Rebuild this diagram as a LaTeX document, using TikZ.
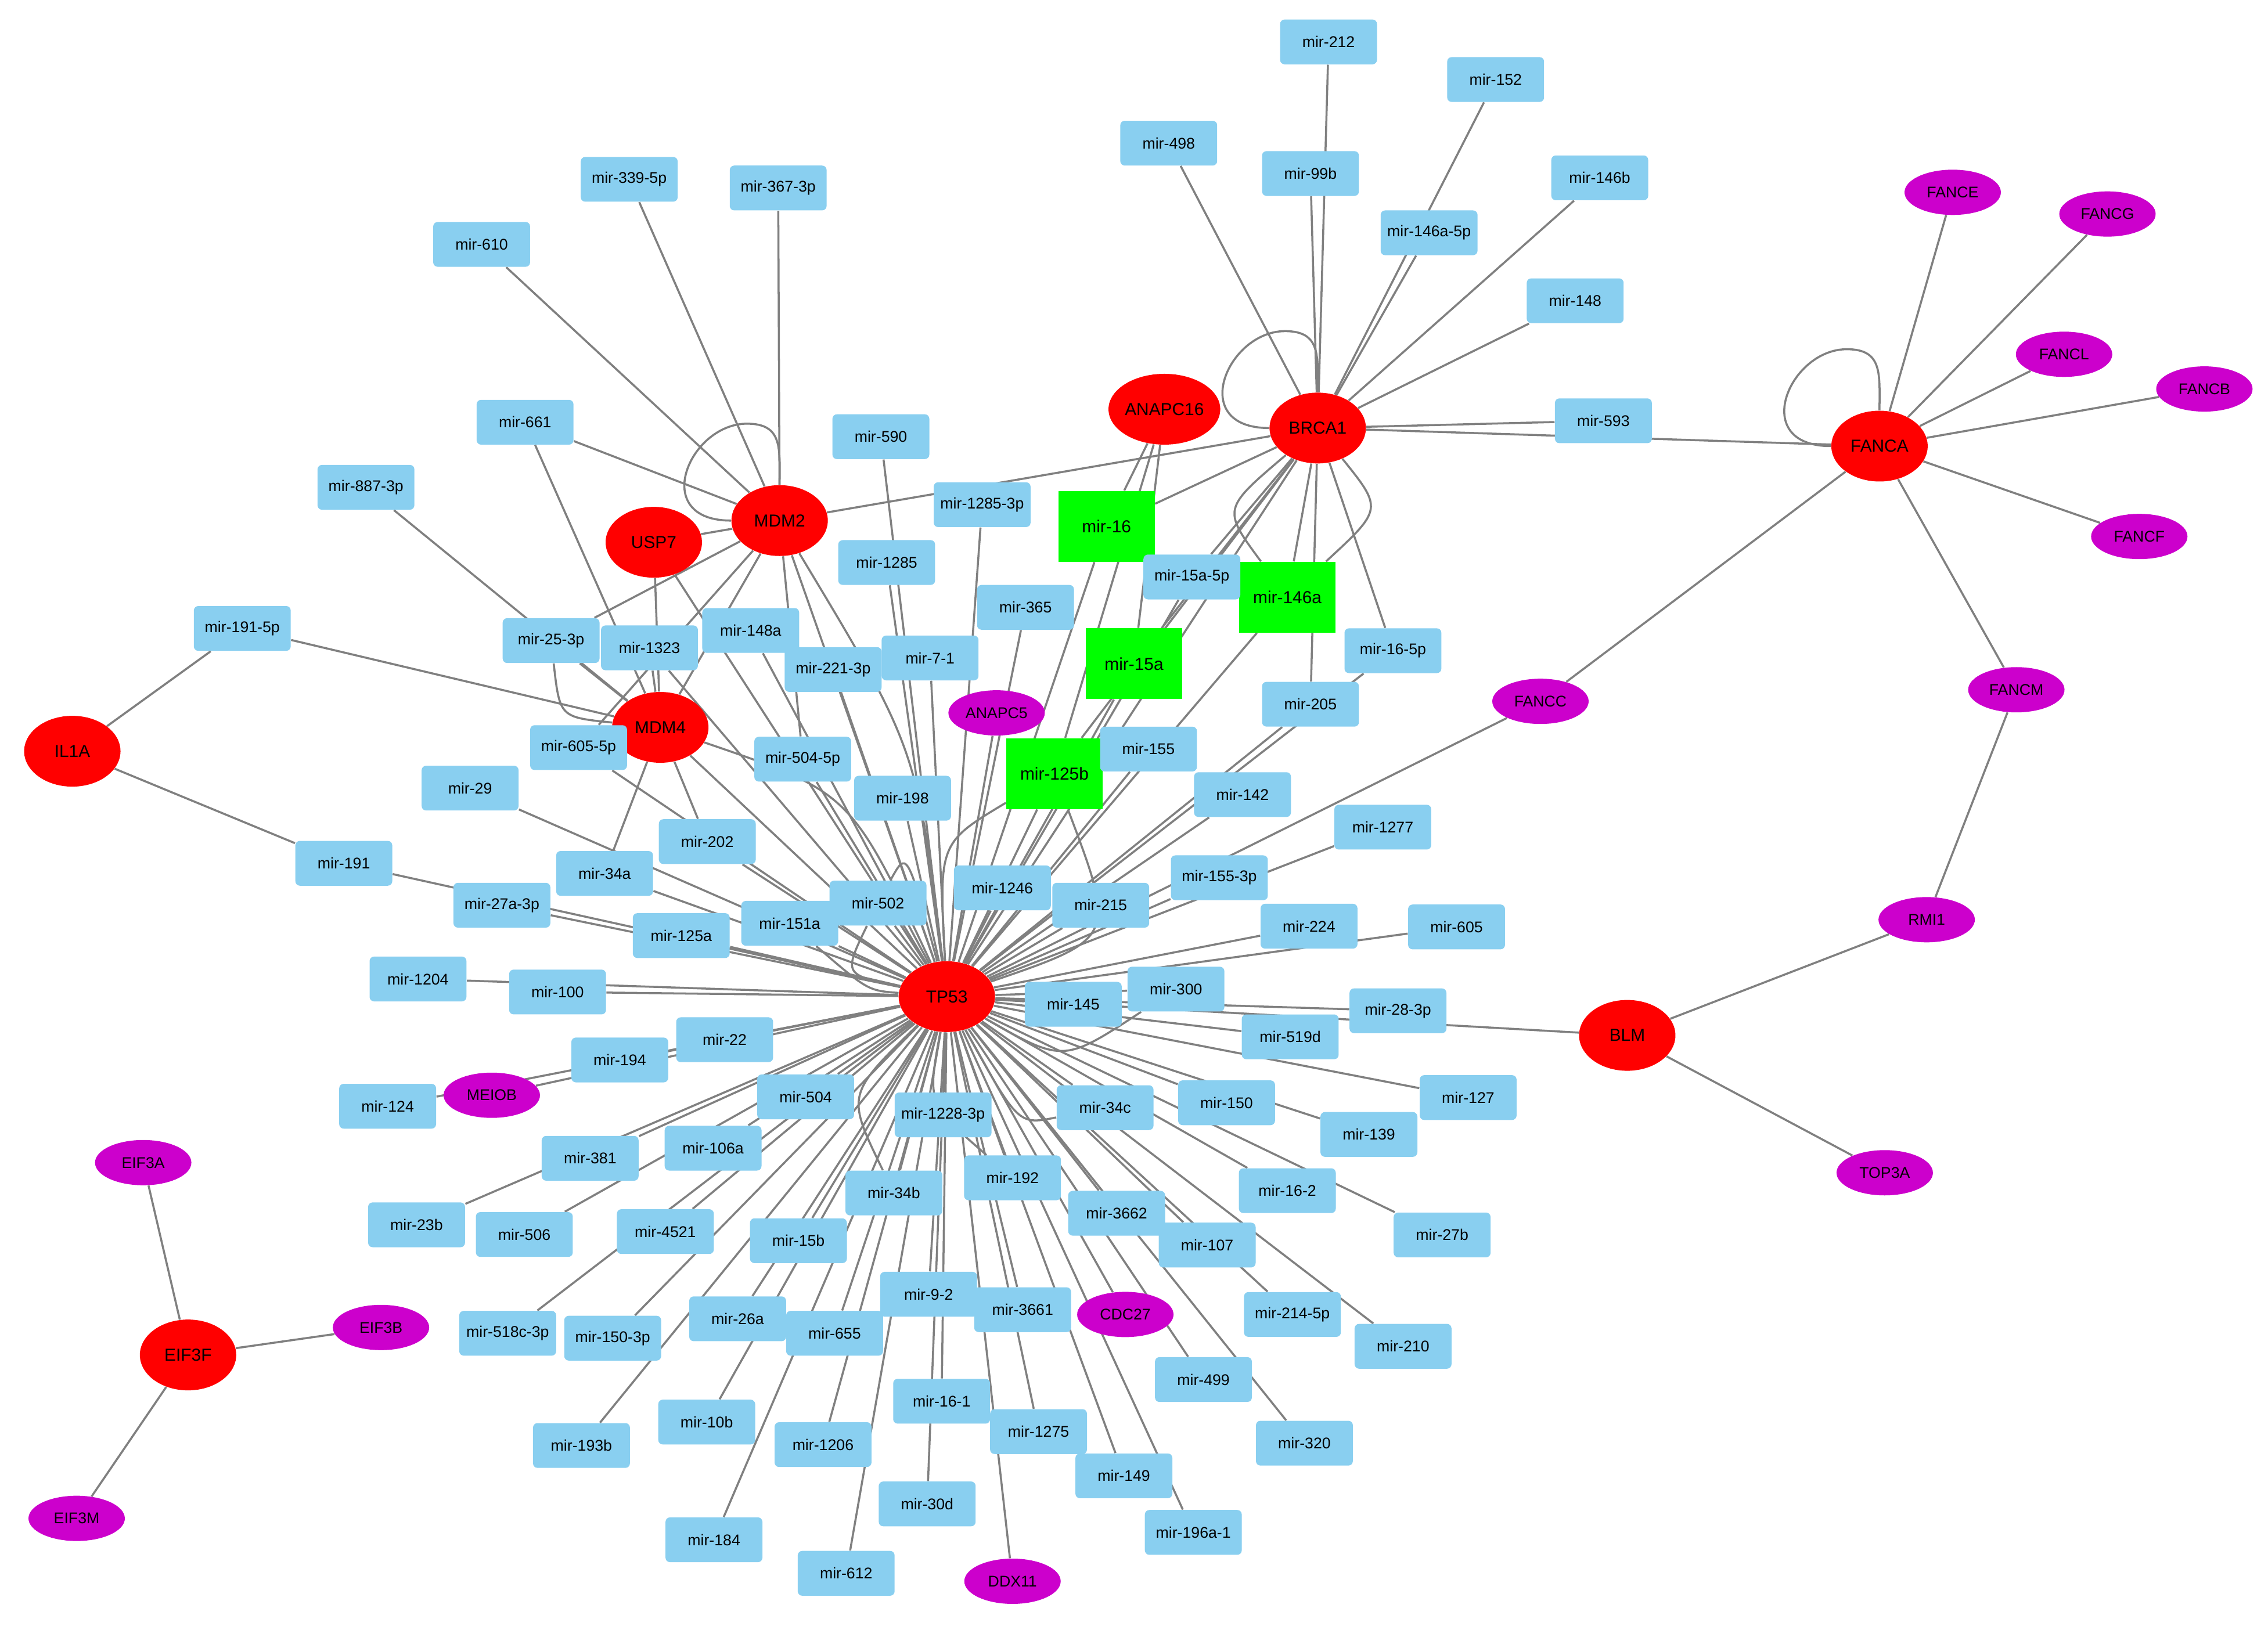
\documentclass[tikz,border=0pt]{standalone}
\usepackage{fontspec}
\setmainfont{Liberation Sans}
\usetikzlibrary{shapes.geometric}
\pgfdeclarelayer{bg}
\pgfsetlayers{bg,main}
\definecolor{boxblue}{RGB}{137,207,240}
\definecolor{hubred}{RGB}{255,0,0}
\definecolor{mirgreen}{RGB}{0,255,0}
\definecolor{protmag}{RGB}{204,0,204}
\definecolor{edgegray}{RGB}{128,128,128}
\begin{document}
\begin{tikzpicture}[x=0.02491cm,y=-0.02491cm,
 mirbox/.style={rectangle,rounded corners=2.2pt,fill=boxblue,minimum width=1.669cm,minimum height=0.772cm,inner sep=0pt,font=\fontsize{7.6}{9}\selectfont},
 hub/.style={ellipse,fill=hubred,minimum width=1.66cm,minimum height=1.22cm,inner sep=0pt,font=\fontsize{8.5}{10}\selectfont},
 gmir/.style={rectangle,fill=mirgreen,minimum width=1.66cm,minimum height=1.22cm,inner sep=0pt,font=\fontsize{8.5}{10}\selectfont},
 prot/.style={ellipse,fill=protmag,minimum width=1.66cm,minimum height=0.78cm,inner sep=0pt,font=\fontsize{7.6}{9}\selectfont},
 edge/.style={draw=edgegray,line width=1pt}]
\useasboundingbox (0,0) rectangle (1568,1132);
% hubs
\node[hub] (TP53) at (654.6,689.2) {TP53};
\node[hub] (BRCA1) at (911,296) {BRCA1};
\node[hub] (ANAPC16) at (805,283) {ANAPC16};
\node[hub] (FANCA) at (1299.4,308.5) {FANCA};
\node[hub] (MDM2) at (539,360) {MDM2};
\node[hub] (USP7) at (452,375) {USP7};
\node[hub] (MDM4) at (456.5,503) {MDM4};
\node[hub] (IL1A) at (50,519.5) {IL1A};
\node[hub] (BLM) at (1125,716) {BLM};
\node[hub] (EIF3F) at (130,937) {EIF3F};
% green
\node[gmir] (m16) at (765,364) {mir-16};
\node[gmir] (m146a) at (890,413) {mir-146a};
\node[gmir] (m15a) at (784,459) {mir-15a};
\node[gmir] (m125b) at (729,535) {mir-125b};
% magenta
\node[prot] (FANCE) at (1350,133) {FANCE};
\node[prot] (FANCG) at (1457,148) {FANCG};
\node[prot] (FANCL) at (1427,245) {FANCL};
\node[prot] (FANCB) at (1524,269) {FANCB};
\node[prot] (FANCF) at (1479,371) {FANCF};
\node[prot] (FANCM) at (1394,477) {FANCM};
\node[prot] (FANCC) at (1065,485) {FANCC};
\node[prot] (RMI1) at (1332,636) {RMI1};
\node[prot] (TOP3A) at (1303,811) {TOP3A};
\node[prot] (ANAPC5) at (689,493) {ANAPC5};
\node[prot] (MEIOB) at (340,757.4) {MEIOB};
\node[prot] (CDC27) at (778,909) {CDC27};
\node[prot] (DDX11) at (700,1093.5) {DDX11};
\node[prot] (EIF3A) at (99,804) {EIF3A};
\node[prot] (EIF3B) at (263.4,918) {EIF3B};
\node[prot] (EIF3M) at (53,1050) {EIF3M};
% blue boxes
\node[mirbox] (m212) at (918.5,29) {mir-212};
\node[mirbox] (m152) at (1034,55) {mir-152};
\node[mirbox] (m498) at (808,99) {mir-498};
\node[mirbox] (m99b) at (906,120) {mir-99b};
\node[mirbox] (m146b) at (1106,123) {mir-146b};
\node[mirbox] (m146a5p) at (988,161) {mir-146a-5p};
\node[mirbox] (m148) at (1089,208) {mir-148};
\node[mirbox] (m593) at (1108.5,291) {mir-593};
\node[mirbox] (m339) at (435,124) {mir-339-5p};
\node[mirbox] (m367) at (538,130) {mir-367-3p};
\node[mirbox] (m610) at (333,169) {mir-610};
\node[mirbox] (m661) at (363,292) {mir-661};
\node[mirbox] (m590) at (609,302) {mir-590};
\node[mirbox] (m887) at (253,337) {mir-887-3p};
\node[mirbox] (m1285a) at (679,349) {mir-1285-3p};
\node[mirbox] (m1285) at (613,389) {mir-1285};
\node[mirbox] (m15a5p) at (824,399) {mir-15a-5p};
\node[mirbox] (m365) at (709,420) {mir-365};
\node[mirbox] (m191a) at (167.5,434.6) {mir-191-5p};
\node[mirbox] (m25) at (381,443) {mir-25-3p};
\node[mirbox] (m1323) at (449,448) {mir-1323};
\node[mirbox] (m148a) at (519,436) {mir-148a};
\node[mirbox] (m165p) at (963,450) {mir-16-5p};
\node[mirbox] (m71) at (643,455) {mir-7-1};
\node[mirbox] (m221) at (576,463) {mir-221-3p};
\node[mirbox] (m205) at (906,487) {mir-205};
\node[mirbox] (m6055p) at (400,517) {mir-605-5p};
\node[mirbox] (m5045p) at (555,525) {mir-504-5p};
\node[mirbox] (m155) at (794,518) {mir-155};
\node[mirbox] (m29) at (325,545) {mir-29};
\node[mirbox] (m198) at (624,552) {mir-198};
\node[mirbox] (m142) at (859,549.5) {mir-142};
\node[mirbox] (m1277) at (956,572) {mir-1277};
\node[mirbox] (m202) at (489,582) {mir-202};
\node[mirbox] (m191) at (237.7,597) {mir-191};
\node[mirbox] (m34a) at (418,604) {mir-34a};
\node[mirbox] (m1553p) at (843,607) {mir-155-3p};
\node[mirbox] (m1246) at (693,614) {mir-1246};
\node[mirbox] (m215) at (761,626) {mir-215};
\node[mirbox] (m502) at (607,624.5) {mir-502};
\node[mirbox] (m27a) at (347,626) {mir-27a-3p};
\node[mirbox] (m151a) at (546,638.5) {mir-151a};
\node[mirbox] (m125a) at (471,647) {mir-125a};
\node[mirbox] (m224) at (905,640.5) {mir-224};
\node[mirbox] (m605) at (1007,641) {mir-605};
\node[mirbox] (m1204) at (289,677) {mir-1204};
\node[mirbox] (m100) at (385.5,686) {mir-100};
\node[mirbox] (m300) at (813,684) {mir-300};
\node[mirbox] (m145) at (742,694.5) {mir-145};
\node[mirbox] (m283p) at (966.5,699) {mir-28-3p};
\node[mirbox] (m519d) at (892,717) {mir-519d};
\node[mirbox] (m22) at (501,719) {mir-22};
\node[mirbox] (m194) at (428.5,733) {mir-194};
\node[mirbox] (m124) at (268,765) {mir-124};
\node[mirbox] (m504) at (557,758.5) {mir-504};
\node[mirbox] (m1228) at (652,771) {mir-1228-3p};
\node[mirbox] (m34c) at (764,766) {mir-34c};
\node[mirbox] (m150) at (848,762.6) {mir-150};
\node[mirbox] (m127) at (1015,759) {mir-127};
\node[mirbox] (m139) at (946.4,784.5) {mir-139};
\node[mirbox] (m381) at (408,801) {mir-381};
\node[mirbox] (m106a) at (493,794) {mir-106a};
\node[mirbox] (m192) at (700,814.5) {mir-192};
\node[mirbox] (m34b) at (618,825) {mir-34b};
\node[mirbox] (m162) at (890,823.4) {mir-16-2};
\node[mirbox] (m23b) at (288,847) {mir-23b};
\node[mirbox] (m506) at (362.5,853.7) {mir-506};
\node[mirbox] (m4521) at (460,851.7) {mir-4521};
\node[mirbox] (m3662) at (772,839) {mir-3662};
\node[mirbox] (m15b) at (552,858) {mir-15b};
\node[mirbox] (m107) at (834.6,861) {mir-107};
\node[mirbox] (m27b) at (997,854) {mir-27b};
\node[mirbox] (m92) at (642,895) {mir-9-2};
\node[mirbox] (m26a) at (510,912) {mir-26a};
\node[mirbox] (m3661) at (707,905.7) {mir-3661};
\node[mirbox] (m2145p) at (893.5,909) {mir-214-5p};
\node[mirbox] (m518c) at (351,922) {mir-518c-3p};
\node[mirbox] (m1503p) at (423.6,925.4) {mir-150-3p};
\node[mirbox] (m655) at (577,922) {mir-655};
\node[mirbox] (m210) at (970,931) {mir-210};
\node[mirbox] (m499) at (832,954) {mir-499};
\node[mirbox] (m161) at (651,969) {mir-16-1};
\node[mirbox] (m10b) at (488.6,983.4) {mir-10b};
\node[mirbox] (m1275) at (718,990) {mir-1275};
\node[mirbox] (m1206) at (569,999) {mir-1206};
\node[mirbox] (m320) at (901.8,998) {mir-320};
\node[mirbox] (m193b) at (402,999.6) {mir-193b};
\node[mirbox] (m149) at (777,1020.6) {mir-149};
\node[mirbox] (m30d) at (641,1040) {mir-30d};
\node[mirbox] (m196a) at (825,1059.7) {mir-196a-1};
\node[mirbox] (m184) at (493.6,1064.8) {mir-184};
\node[mirbox] (m612) at (585,1088) {mir-612};
\begin{pgfonlayer}{bg}
\fill[white] (0,0) rectangle (1568,1132);
\foreach \a in {m1323,m5045p,m148a,m221,m198,m71,m1285,m590,m1285a,m365,ANAPC5,m16,m15a,m15a5p,m146a,m125b,m155,m142,m205,m165p,m215,m1246,m1553p,FANCC,m1277,m224,m605,m300,m145,m283p,BLM,m519d,m127,m150,m139,m34c,m162,m27b,m107,m2145p,m210,m3662,m499,m320,CDC27,m149,m196a,m3661,m1275,DDX11,m192,m1228,m92,m161,m30d,m34b,m612,m1206,m655,m184,m15b,m26a,m10b,m193b,m1503p,m4521,m518c,m106a,m506,m381,m23b,m504,m22,m194,MEIOB,m124,m100,m1204,m125a,m27a,m191,m151a,m502,m34a,m29,m202,m6055p,USP7,MDM4,MDM2,BRCA1}
  \draw[edge] (\a) -- (TP53);
\foreach \a/\b in {FANCA/FANCE,FANCA/FANCG,FANCA/FANCL,FANCA/FANCB,FANCA/FANCF,FANCA/FANCM,FANCA/FANCC,FANCA/BRCA1,RMI1/FANCM,RMI1/BLM,TOP3A/BLM,EIF3F/EIF3A,EIF3F/EIF3B,EIF3F/EIF3M,IL1A/m191a,IL1A/m191,m191a/MDM4,BRCA1/m498,BRCA1/m212,BRCA1/m99b,BRCA1/m152,BRCA1/m146a5p,BRCA1/m146b,BRCA1/m148,BRCA1/m593,BRCA1/MDM2,BRCA1/m16,BRCA1/m15a5p,BRCA1/m15a,BRCA1/m125b,BRCA1/m146a,BRCA1/m205,BRCA1/m165p,ANAPC16/m16,ANAPC16/m15a,ANAPC16/m125b,MDM2/m610,MDM2/m339,MDM2/m367,MDM2/m661,MDM2/USP7,MDM2/m25,MDM2/m6055p,MDM2/MDM4,MDM2/m5045p,USP7/MDM4,m1323/MDM4,m661/MDM4,m887/MDM4,m25/MDM4,m34a/MDM4,m202/MDM4}
  \draw[edge] (\a) -- (\b);
% curved multi-edges
\draw[edge] (TP53) .. controls (735,735) .. (m300);
\draw[edge] (m125b) .. controls (649,583) .. (TP53);
\draw[edge] (m125b) .. controls (772,649) .. (TP53);
\draw[edge] (m502) .. controls (627,588) .. (TP53);
\draw[edge] (m502) .. controls (583,674) .. (TP53);
\draw[edge] (m151a) .. controls (600,685) .. (TP53);
\draw[edge] (m34c) .. controls (704,778) .. (TP53);
\draw[edge] (m34b) .. controls (585,757) .. (TP53);
\draw[edge] (m192) .. controls (641,763) .. (TP53);
\draw[edge] (MDM2) .. controls (634,518) .. (TP53);
\draw[edge] (MDM4) .. controls (588,548) .. (TP53);
\draw[edge] (m25) .. controls (387,496) .. (MDM4);
\draw[edge] (BRCA1) .. controls (845,352) .. (m146a);
\draw[edge] (BRCA1) .. controls (956,352) .. (m146a);
% self loops
\draw[edge] (BRCA1.west) .. controls +(-57,0) and +(-40,0) .. +(11,-67) .. controls +(25,0) and +(0,-25) .. (BRCA1.north);
\draw[edge] (MDM2.west) .. controls +(-57,0) and +(-40,0) .. +(11,-67) .. controls +(25,0) and +(0,-25) .. (MDM2.north);
\draw[edge] (FANCA.west) .. controls +(-57,0) and +(-40,0) .. +(11,-67) .. controls +(25,0) and +(0,-25) .. (FANCA.north);
\end{pgfonlayer}
\end{tikzpicture}
\end{document}
